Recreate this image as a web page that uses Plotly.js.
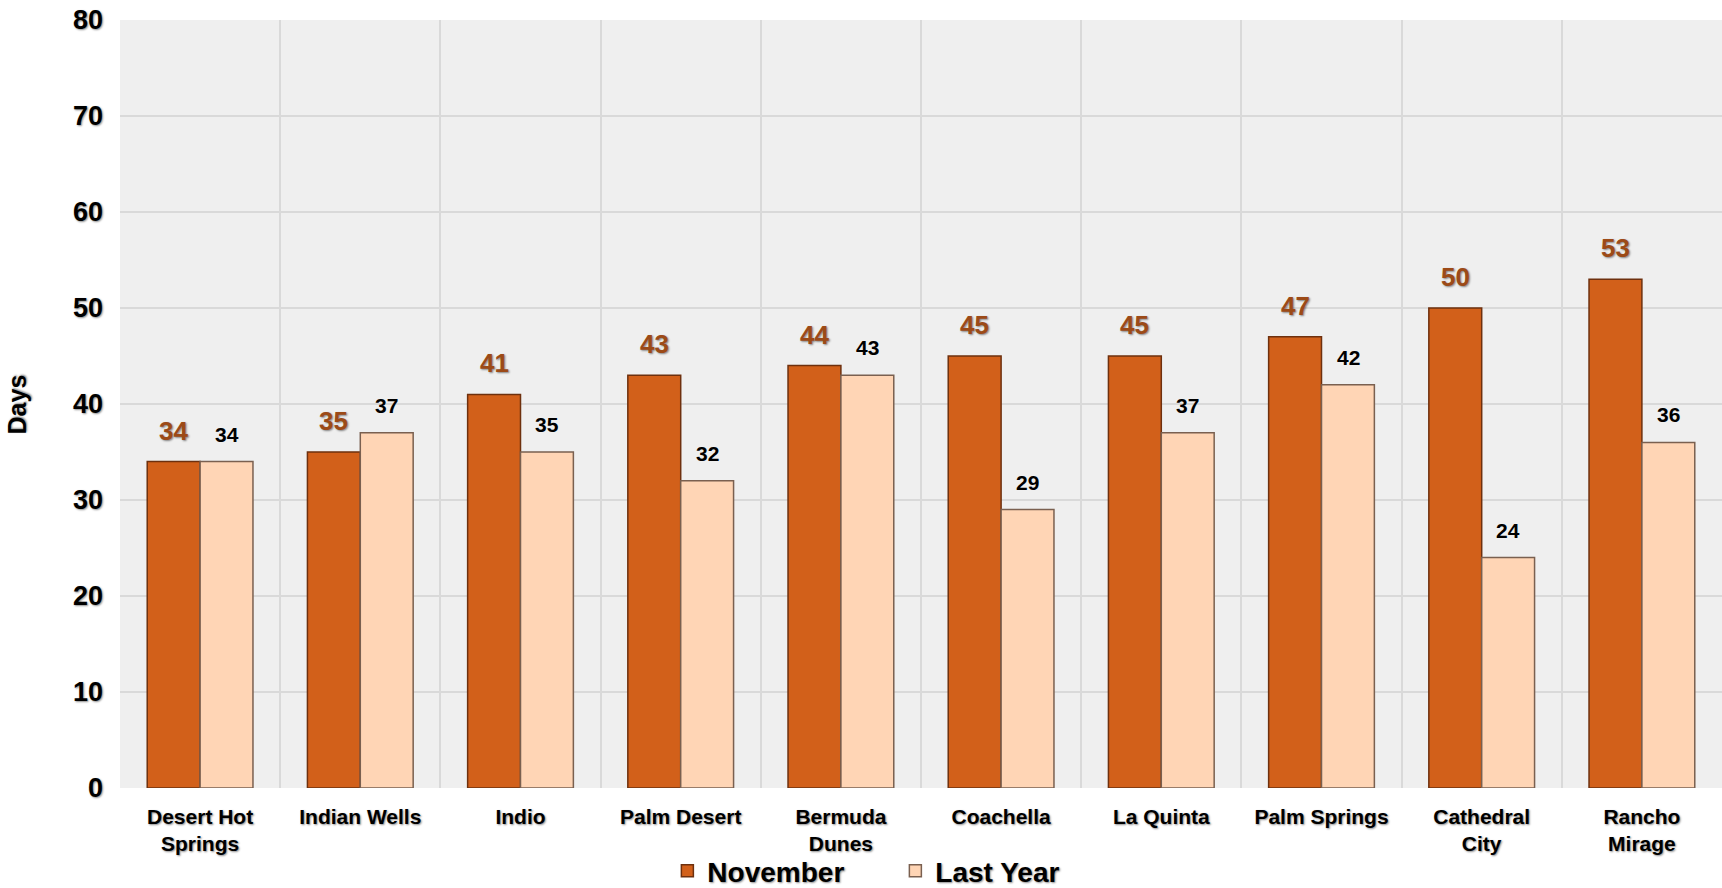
<!DOCTYPE html>
<html><head><meta charset="utf-8">
<script src="https://cdn.plot.ly/plotly-3.0.1.min.js"></script>
<style>html,body{margin:0;padding:0;background:#fff;}#chart{width:1722px;height:888px;}</style>
</head><body><div id="chart"></div>
<script>
const categories = ["Desert Hot Springs","Indian Wells","Indio","Palm Desert","Bermuda Dunes","Coachella","La Quinta","Palm Springs","Cathedral City","Rancho Mirage"];
const tickLabels = ["Desert Hot<br>Springs","Indian Wells","Indio","Palm Desert","Bermuda<br>Dunes","Coachella","La Quinta","Palm Springs","Cathedral<br>City","Rancho<br>Mirage"];
const november = [34,35,41,43,44,45,45,47,50,53];
const lastYear = [34,37,35,32,43,29,37,42,24,36];
const yTicks = [0,10,20,30,40,50,60,70,80];

const FONT = "Liberation Sans, Arial, sans-serif";
const SH = "1px 1px 2px rgba(0,0,0,0.45)";

const traces = [
  {type:"bar", name:"November", x:categories, y:november,
   marker:{color:"#D2601A", line:{color:"#6E300E", width:1.5}}},
  {type:"bar", name:"Last Year", x:categories, y:lastYear,
   marker:{color:"#FFD5B5", line:{color:"#7A6050", width:1.5}}}
];

const annotations = [];
categories.forEach((c,i)=>{
  annotations.push({x:c, y:november[i], text:String(november[i]), showarrow:false,
    xanchor:"center", yanchor:"bottom", xshift:-26.5, yshift:14,
    font:{family:FONT, size:26, color:"#9C4A17", weight:"bold", shadow:SH}});
  annotations.push({x:c, y:lastYear[i], text:String(lastYear[i]), showarrow:false,
    xanchor:"center", yanchor:"bottom", xshift:26.5, yshift:14,
    font:{family:FONT, size:21, color:"#000", weight:"bold"}});
});

const layout = {
  width:1722, height:888,
  margin:{l:120, r:0, t:20, b:100, autoexpand:false},
  paper_bgcolor:"#fff", plot_bgcolor:"#EFEFEF",
  barmode:"group", bargap:0.34, bargroupgap:0,
  font:{family:FONT},
  xaxis:{type:"category", tickson:"boundaries", showgrid:true, gridcolor:"#D9D9D9", gridwidth:2,
    tickvals:categories, ticktext:tickLabels, ticks:"", showline:false, zeroline:false, automargin:false,
    ticklabelstandoff:14,
    tickfont:{family:FONT, size:21, color:"#000", weight:"bold", shadow:SH}},
  yaxis:{range:[0,80], tickvals:yTicks, ticktext:yTicks.map(String), showgrid:true, gridcolor:"#D9D9D9", gridwidth:2,
    zeroline:false, ticks:"", ticklabelstandoff:16, automargin:false,
    tickfont:{family:FONT, size:27, color:"#000", weight:"bold", shadow:SH}},
  legend:{orientation:"h", x:0.484, xanchor:"center", y:-0.108, yanchor:"middle",
    bgcolor:"rgba(0,0,0,0)",
    font:{family:FONT, size:28, color:"#000", weight:"bold", shadow:SH}, itemwidth:30,
    entrywidth:183, tracegroupgap:0},
  annotations:annotations.concat([{xref:"paper", yref:"paper", x:-0.064, y:0.5, xanchor:"center", yanchor:"middle",
    text:"Days", textangle:-90, showarrow:false,
    font:{family:FONT, size:25, color:"#000", weight:"bold", shadow:SH}}]),
  showlegend:true
};

Plotly.newPlot("chart", traces, layout, {displayModeBar:false, staticPlot:true});
</script></body></html>
